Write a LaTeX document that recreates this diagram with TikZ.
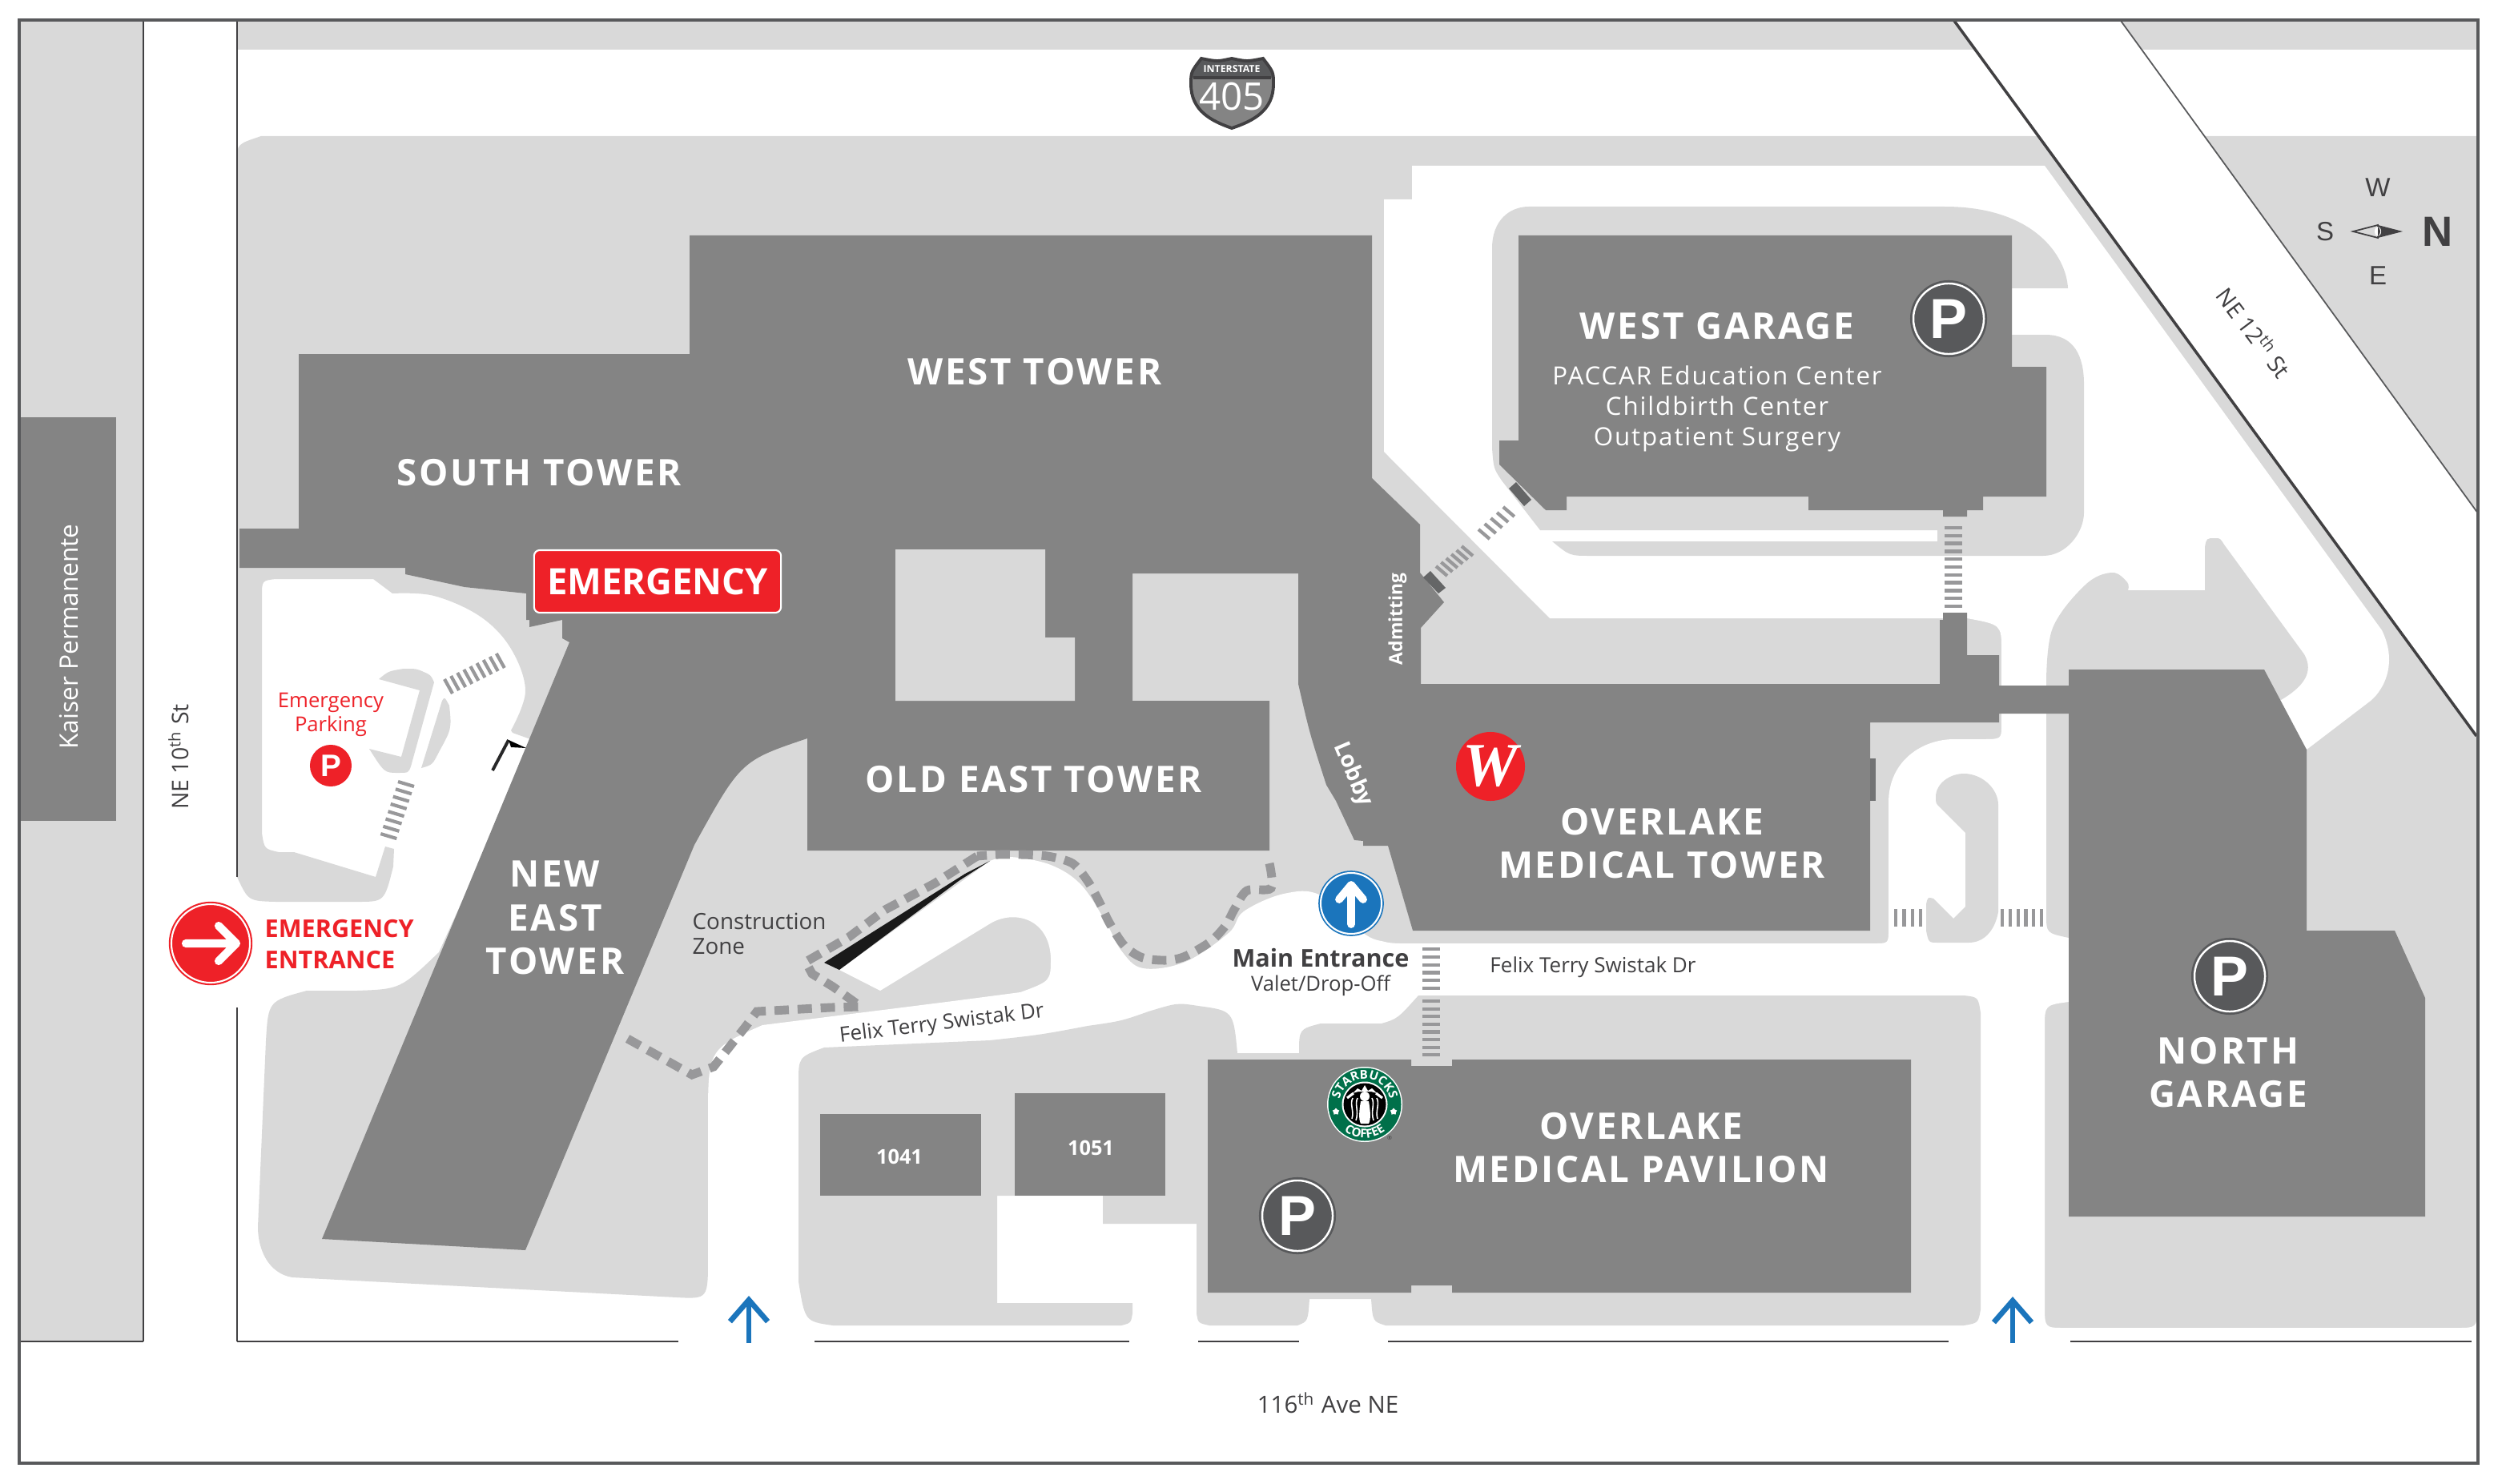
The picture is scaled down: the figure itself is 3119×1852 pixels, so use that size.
\documentclass[tikz,border=0pt]{standalone}
\usepackage{fontspec}
\setmainfont{Open Sans}
\newfontfamily\bldgfont[LetterSpace=6]{Open Sans}
\newfontfamily\subfont[LetterSpace=6]{Open Sans}
\newfontfamily\arialfont{Liberation Sans}
\newfontfamily\walgfont{Liberation Serif}
\usetikzlibrary{shapes.geometric, arrows.meta, decorations.text}
\newcommand{\fsz}[2]{\fontsize{#1}{#2}\selectfont}
\definecolor{lawn}{HTML}{D9D9D9}
\definecolor{bldg}{HTML}{848484}
\definecolor{ink}{HTML}{414042}
\definecolor{signgray}{HTML}{58595B}
\definecolor{barcol}{HTML}{98989A}
\definecolor{redcol}{HTML}{EE2128}
\definecolor{bluecol}{HTML}{1B75BC}
\definecolor{sbxgreen}{HTML}{00704A}
\tikzset{
    ground/.style={fill=lawn},
    road/.style={fill=white},
    building/.style={fill=bldg},
    walkbar/.style={draw=barcol, line width=1.2pt},
    constr/.style={draw=barcol, line width=3.1pt, dash pattern=on 5.1pt off 3.1pt},
    streetline/.style={draw=ink, line width=0.7pt},
    bldglabel/.style={text=white, align=center, inner sep=0pt, font=\bldgfont\bfseries\fsz{13}{15.4}},
    sublabel/.style={text=white, align=center, inner sep=0pt, font=\subfont\fsz{8.9}{10.8}},
    minilabel/.style={text=white, inner sep=0pt, font=\bfseries\fsz{7.2}{9}},
    roadlabel/.style={text=ink, align=center, inner sep=0pt, font=\fsz{7.4}{9}},
    redlabel/.style={text=redcol, align=left, inner sep=0pt, font=\bfseries\fsz{8.7}{10.9}},
    psign/.style={circle, fill=signgray, draw=white, line width=0.7pt, minimum size=0.88cm, inner sep=0pt,
        preaction={draw=signgray, line width=2.3pt}, text=white, font=\arialfont\bfseries\fsz{20}{20}},
    roundsign/.style={circle, draw=white, line width=0.6pt, minimum size=0.9cm, inner sep=0pt},
    comptext/.style={text=ink, inner sep=0pt, font=\arialfont\fsz{9.4}{11}},
    bluearrow/.style={draw=bluecol, line width=1.9pt, -{Straight Barb[length=7.7pt,width=13.4pt]}}
}

\begin{document}
\begin{tikzpicture}[x=0.01cm, y=-0.01cm]
\useasboundingbox (0,0) rectangle (3119,1852);
\fill[white] (0,0) rectangle (3119,1852);

% Outer bands
\fill[ground] (24,26) rectangle (178,1675);
\fill[building] (24,521) rectangle (145,1025);
\fill[ground] (296,26) -- (2440,26) -- (2467,62) -- (296,62) -- cycle;
\fill[ground] (2648,26) -- (3094,26) -- (3094,62) -- (2674,62) -- cycle;
\fill[ground] (2752,170) -- (3094,170) -- (3094,641) -- cycle;

% Grounds
\fill[ground] (296,200) .. controls (296,180) .. (326,170) -- (2545,170) -- (3092,919) -- (3092,1660) -- (884,1660)
    -- (884,1570) .. controls (884,1622) .. (845,1620) -- (365,1595) .. controls (335,1590) and (322,1560) .. (322,1532)
    -- (332,1300) .. controls (335,1250) .. (383,1237) -- (446,1237) .. controls (500,1235) .. (548,1189)
    -- (668,925) -- (640,915) -- plot[smooth,tension=0.6] coordinates {(638,912) (656,863) (638,810) (600,770) (542,744) (490,741)}
    -- (466,723) -- (344,723) .. controls (327,725) .. (327,745) -- (327,1040) .. controls (330,1060) .. (348,1064) -- (367,1064)
    -- (469,1095) -- (481,1057) -- (492,1060) -- (491,1082) .. controls (480,1126) .. (446,1126) -- (344,1126)
    .. controls (310,1125) .. (296,1095) -- cycle;

% Roads
\fill[road] (884,1680) -- (884,1400) .. controls (884,1310) .. (952,1280) -- (1190,1250) -- (1274,1239)
    .. controls (1312,1225) .. (1312,1196) .. controls (1310,1146) and (1265,1135) .. (1235,1154) -- (1099,1237) -- (1048,1211) -- (1236,1075)
    -- plot[smooth,tension=0.6] coordinates {(1236,1075) (1262,1070) (1312,1080) (1350,1105) (1381,1152) (1400,1187) (1427,1209) (1480,1201) (1534,1165) (1553,1138) (1603,1116) (1649,1118) (1702,1165) (1729,1176) (1750,1178)}
    -- (2340,1178) .. controls (2358,1178) .. (2358,1160) -- (2358,1002) .. controls (2358,950) and (2400,923) .. (2440,923)
    -- (2475,923) .. controls (2499,923) .. (2499,905) -- (2499,812) .. controls (2499,780) .. (2456,772)
    -- (1935,772) -- (1728,564) -- (1728,249) -- (1763,249) -- (1763,207) -- (2553,207) -- (2974,787)
    .. controls (2995,830) and (2975,865) .. (2956,878) -- (2880,936) -- (2800,1000) -- (2800,1200) -- (2583,1251)
    .. controls (2553,1255) .. (2553,1283) -- (2553,1630) .. controls (2553,1658) .. (2578,1658) -- (3068,1658)
    .. controls (3092,1658) .. (3094,1634) -- (3094,1680) -- cycle;

% Islands
\fill[ground] (997,1600) -- (997,1352) .. controls (997,1320) .. (1029,1308) -- (1236,1299) .. controls (1300,1292) .. (1358,1281)
    .. controls (1400,1275) .. (1434,1263) .. controls (1470,1252) .. (1496,1256) .. controls (1540,1262) .. (1545,1315)
    -- (1622,1315) .. controls (1622,1285) .. (1649,1278) -- (1725,1278) .. controls (1745,1272) .. (1771,1243)
    -- (2452,1243) .. controls (2470,1245) .. (2473,1265) -- (2473,1635) .. controls (2470,1652) .. (2452,1655)
    -- (1730,1655) .. controls (1714,1650) .. (1712,1622) -- (1635,1622) .. controls (1633,1650) .. (1620,1655)
    -- (1510,1655) .. controls (1496,1652) .. (1494,1640) -- (1494,1528) -- (1377,1528) -- (1377,1493) -- (1245,1493)
    -- (1245,1627) -- (1414,1627) -- (1414,1640) .. controls (1412,1652) .. (1400,1655) -- (1040,1655)
    .. controls (1005,1650) .. (997,1600) -- cycle;
\fill[ground] (1909,258) -- (2428,258) .. controls (2540,258) and (2580,320) .. (2582,360) -- (2512,360) -- (2512,418)
    -- (2554,418) .. controls (2590,418) and (2602,445) .. (2602,480) -- (2602,640) .. controls (2602,665) and (2580,694) .. (2551,694)
    -- (1986,694) .. controls (1960,694) .. (1938,676) -- (2419,676) -- (2419,662) -- (1923,662) -- (1875,600)
    .. controls (1865,585) .. (1863,560) -- (1863,310) .. controls (1863,275) and (1885,258) .. (1909,258) -- cycle;
\fill[ground] (2555,1142) -- (2555,851) -- plot[smooth,tension=0.6] coordinates {(2555,851) (2563,784) (2604,730) (2637,715) (2656,727) (2657,737)}
    -- (2753,737) -- (2753,683) .. controls (2755,672) .. (2766,672) .. controls (2772,672) .. (2777,680) -- (2877,817)
    .. controls (2890,840) and (2875,858) .. (2848,874) -- (2700,900) -- (2700,1171) -- (2583,1171) .. controls (2555,1165) .. (2555,1142) -- cycle;
\fill[ground] (2417,995) .. controls (2417,978) and (2435,966) .. (2452,966) .. controls (2475,966) and (2495,985) .. (2495,1005)
    -- (2495,1139) .. controls (2490,1165) and (2475,1177) .. (2458,1177) -- (2420,1177) .. controls (2408,1177) .. (2405,1162)
    -- (2405,1129) .. controls (2407,1120) .. (2414,1122) -- (2439,1147) -- (2454,1132) -- (2454,1040) -- (2422,1008) .. controls (2417,1003) .. (2417,995) -- cycle;

% Emergency lot islands
\fill[ground] (473,848) .. controls (485,838) .. (504,835) .. controls (520,835) .. (529,839) .. controls (538,843) .. (542,852)
    -- (513,957) .. controls (510,965) .. (497,965) .. controls (480,965) .. (461,935) -- (501,945) -- (524,862) -- cycle;
\fill[ground] (552,875) .. controls (555,870) .. (561,881) .. controls (564,910) .. (548,939) .. controls (540,955) .. (526,959) -- cycle;

% Street lines
\draw[streetline] (24,1675) -- (179,1675) (179,26) -- (179,1675);
\draw[streetline] (296,26) -- (296,1095) (296,1258) -- (296,1675);
\draw[streetline] (296,1675) -- (847,1675) (1017,1675) -- (1410,1675) (1496,1675) -- (1622,1675) (1733,1675) -- (2433,1675) (2585,1675) -- (3086,1675);
\draw[streetline, line width=1pt] (2440,26) -- (3092,919);
\draw[streetline, draw=signgray, line width=0.5pt] (2648,26) -- (3094,641);

% Buildings
\fill[building] (861,294) -- (1713,294) -- (1713,597) -- (1773,655) -- (1773,715) -- (1803,752) -- (1774,784) -- (1774,854)
    -- (2422,854) -- (2422,774) -- (2426,774) -- (2426,765) -- (2456,765) -- (2456,818) -- (2496,818) -- (2496,856) -- (2584,856)
    -- (2584,891) -- (2496,891) -- (2496,902) -- (2335,902) -- (2335,1162) -- (1764,1162) -- (1733,1056) -- (1702,1056) -- (1702,1050)
    -- (1691,1049) -- (1668,1000) -- (1656,980) .. controls (1635,915) .. (1621,854) -- (1621,716) -- (1414,716) -- (1414,875) -- (1585,875)
    -- (1585,1062) -- (1008,1062) -- (1008,922) .. controls (925,950) .. (867,1055) -- (656,1561) -- (402,1547) -- (711,802) -- (702,797)
    -- (702,774) -- (661,783) -- (661,774) -- (657,774) -- (657,741) -- (580,733) -- (506,717) -- (506,709) -- (299,709) -- (299,660)
    -- (373,660) -- (373,442) -- (861,442) -- cycle;
\fill[ground] (1118,686) -- (1305,686) -- (1305,796) -- (1342,796) -- (1342,875) -- (1118,875) -- cycle;
\fill[building] (1896,294) -- (2512,294) -- (2512,458) -- (2555,458) -- (2555,620) -- (2476,620) -- (2476,637) -- (2456,637)
    -- (2456,645) -- (2426,645) -- (2426,637) -- (2258,637) -- (2258,620) -- (1956,620) -- (1956,637) -- (1930,637) -- (1872,580)
    -- (1872,550) -- (1896,550) -- cycle;
\fill[building] (1508,1323) -- (1762,1323) -- (1762,1331) -- (1813,1331) -- (1813,1323) -- (2386,1323) -- (2386,1614) -- (1813,1614)
    -- (1813,1605) -- (1762,1605) -- (1762,1614) -- (1508,1614) -- cycle;
\fill[building] (2583,836) -- (2827,836) -- (2880,936) -- (2880,1162) -- (2990,1162) -- (3028,1246) -- (3028,1519) -- (2583,1519) -- cycle;
\fill[building] (1024,1391) rectangle (1225,1493);
\fill[building] (1267,1365) rectangle (1455,1493);
\fill[signgray!70!bldg] (1884,610) -- (1893,602) -- (1912,624) -- (1903,632) -- cycle;
\fill[signgray!70!bldg] (1777,721) -- (1786,713) -- (1805,734) -- (1796,741) -- cycle;
\fill[signgray!40!bldg] (2335,947) rectangle (2342,1000);

% Crosswalks
\foreach \i in {0,...,10} \draw[walkbar] (2428,{659+9.8*\i}) -- (2450,{659+9.8*\i});
\foreach \i in {0,...,5} \draw[walkbar] (1776,{1185+9.8*\i}) -- (1798,{1185+9.8*\i});
\foreach \i in {0,...,7} \draw[walkbar] (1776,{1250+9.6*\i}) -- (1798,{1250+9.6*\i});
\foreach \i in {0,...,3} \draw[walkbar] ({2367+10.4*\i},1135) -- ({2367+10.4*\i},1157);
\foreach \i in {0,...,5} \draw[walkbar] ({2500+9.8*\i},1135) -- ({2500+9.8*\i},1157);
\foreach \i in {0,...,5} \draw[walkbar, shift={({1800+6.4*\i},{713-5*\i})}] (-7,-6) -- (7,6);
\foreach \i in {0,...,4} \draw[walkbar, shift={({1853+7.7*\i},{667-7*\i})}] (-7,-6) -- (7,6);
\foreach \i in {0,...,8} \draw[walkbar, shift={({560+8.1*\i},{857-4*\i})}] (-5,-9) -- (5,9);
\foreach \i in {0,...,7} \draw[walkbar, shift={({507-3.1*\i},{979+9.3*\i})}] (-10,-3) -- (10,3);

% Construction zone
\fill[black!90] (1029,1202) -- (1205,1091) -- (1236,1075) -- (1197,1100) -- (1048,1211) -- cycle;
\draw[constr] plot[smooth,tension=0.5] coordinates {(1585,1078) (1587,1109) (1557,1112) (1542,1134) (1530,1156) (1511,1176) (1480,1194) (1457,1199) (1427,1196) (1404,1181) (1385,1152) (1373,1127) (1358,1100) (1339,1078) (1308,1069) (1274,1067) (1247,1067) (1220,1069)};
\draw[constr] (1220,1069) -- (1167,1103) -- (1105,1136) -- (1060,1170) -- (1006,1201) -- (1014,1216) -- (1040,1232) -- (1075,1257) -- (1037,1258) -- (945,1263) -- (930,1283) -- (891,1332) -- (864,1342) -- (780,1295);

% Flag
\draw[ink!60!black, line width=1.1pt] (615,962) -- (635,924);
\fill[black] (635,924) -- (657,934) -- (638,933) -- cycle;

% Shield
\begin{scope}
\clip (1500,73) .. controls (1520,77) .. (1538,73) .. controls (1557,77) .. (1577,73) .. controls (1590,90) .. (1590,105) .. controls (1590,138) and (1565,151) .. (1538,160)
    .. controls (1512,151) and (1487,138) .. (1487,105) .. controls (1487,90) .. (1500,73) -- cycle;
\fill[bldg] (1480,60) rectangle (1600,170);
\fill[signgray] (1480,60) rectangle (1600,97);
\end{scope}
\draw[ink, line width=1.1pt] (1500,73) .. controls (1520,77) .. (1538,73) .. controls (1557,77) .. (1577,73) .. controls (1590,90) .. (1590,105) .. controls (1590,138) and (1565,151) .. (1538,160)
    .. controls (1512,151) and (1487,138) .. (1487,105) .. controls (1487,90) .. (1500,73) -- cycle;
\draw[ink, line width=0.9pt] (1490,97) -- (1587,97);
\node[text=white, inner sep=0pt, font=\bfseries\fsz{3.5}{4}] (interstate) at (1538,86) {INTERSTATE};
\node[text=white, inner sep=0pt, font=\fsz{13.5}{14}] (hwynum) at (1538,121) {405};

% Compass
\draw[ink, line width=0.5pt] (2938,289) -- (2969,281) -- (2969,297) -- cycle;
\fill[ink] (2969,281) -- (3000,289) -- (2969,297) -- cycle;
\fill[white] (2969,289) ellipse (4 and 6);
\fill[ink] (2969,283) .. controls (2973,286) and (2973,292) .. (2969,295) -- cycle;
\node[comptext] (compw) at (2969,234) {W};
\node[comptext] (compe) at (2969,344) {E};
\node[comptext] (comps) at (2903,289) {S};
\node[text=ink, inner sep=0pt, font=\arialfont\bfseries\fsz{15}{16}] (compn) at (3043,289) {N};

% Signs
\node[psign] (pwest) at (2433,398) {P};
\node[psign] (ppav) at (1620,1518) {P};
\node[psign] (pnorth) at (2784,1219) {P};
\node[circle, fill=redcol, minimum size=0.52cm, inner sep=0pt, text=white, font=\arialfont\bfseries\fsz{11}{11}] (pemerg) at (413,956) {P};
\node[circle, fill=redcol, minimum size=0.86cm, inner sep=0pt, text=white, font=\walgfont\bfseries\itshape\fsz{22}{22}] (walg) at (1861,957) {W};
\node[rectangle, rounded corners=0.07cm, fill=redcol, draw=white, line width=0.6pt, minimum width=3.08cm, minimum height=0.78cm, inner sep=0pt,
    text=white, font=\bfseries\fsz{12.9}{14}] (emerg) at (821,726) {EMERGENCY};

% Entrance circles
\node[roundsign, fill=redcol, preaction={draw=redcol, line width=1.8pt}, minimum size=0.98cm] (emergcirc) at (263,1178) {};
\draw[white, line width=2.9pt, line cap=round, line join=round] (232,1178) -- (295,1178) (273,1156) -- (295,1178) -- (273,1200);
\node[roundsign, fill=bluecol, preaction={draw=bluecol, line width=1.6pt}, minimum size=0.76cm] (maincirc) at (1687,1128) {};
\draw[white, line width=2.8pt, line cap=round, line join=round] (1687,1154) -- (1687,1105) (1672,1123) -- (1687,1105) -- (1702,1123);

% Entry arrows
\coordinate (entrya) at (935,1677);
\coordinate (entryb) at (935,1618);
\coordinate (entryc) at (2513,1677);
\coordinate (entryd) at (2513,1619);
\draw[bluearrow] (entrya) -- (entryb);
\draw[bluearrow] (entryc) -- (entryd);

% Starbucks
\begin{scope}[shift={(1704,1379)}, x=0.01cm, y=0.01cm]
\fill[white] (0,0) circle (47);
\fill[sbxgreen] (0,0) circle (45.5);
\fill[white] (0,0) circle (28.5);
\fill[black] (0,0) circle (26.5);
\fill[white] (0,10) circle (6);
\fill[white] (-5,4) .. controls (-7,-8) and (-8,-18) .. (-5,-24) -- (5,-24) .. controls (8,-18) and (7,-8) .. (5,4) -- cycle;
\fill[white] (-15,14) -- (-9,20) -- (-4,17) -- (0,24) -- (4,17) -- (9,20) -- (15,14) -- (8,16) -- (-8,16) -- cycle;
\foreach \s in {-1,1} {
\draw[white, line width=0.45pt] (\s*9,8) .. controls (\s*13,0) and (\s*7,-8) .. (\s*11,-20);
\draw[white, line width=0.45pt] (\s*15,8) .. controls (\s*19,0) and (\s*13,-8) .. (\s*16,-18);
\draw[white, line width=0.9pt] (\s*14,14) -- (\s*22,8);
\node[star, star points=5, fill=white, inner sep=0pt, minimum size=0.09cm] (sbxstar\s) at (\s*36,-9) {};
}
\path[decorate, decoration={text along path, text color=white, text align=center, text={|\bfseries\fsz{4.3}{5}|STARBUCKS}}]
    (170:32) arc (170:10:32);
\path[decorate, decoration={text along path, text color=white, text align=center, text={|\bfseries\fsz{4.3}{5}|COFFEE}}]
    (218:42) arc (218:322:42);
\end{scope}
\node[text=ink, inner sep=0pt, font=\fsz{2}{2}] (sbxreg) at (1735,1421) {®};

% Building labels
\node[bldglabel] (south) at (673,590) {SOUTH TOWER};
\node[bldglabel] (west) at (1292,464) {WEST TOWER};
\node[bldglabel] (oldeast) at (1291,973) {OLD EAST TOWER};
\node[bldglabel] (neweast) at (693,1146) {NEW\\EAST\\TOWER};
\node[bldglabel] (westg) at (2144,407) {WEST GARAGE};
\node[sublabel] (westgsub) at (2144,510) {PACCAR Education Center\\Childbirth Center\\Outpatient Surgery};
\node[bldglabel] (tower) at (2075,1053) {OVERLAKE\\MEDICAL TOWER};
\node[bldglabel] (pavil) at (2049,1433) {OVERLAKE\\MEDICAL PAVILION};
\node[bldglabel] (northg) at (2782,1339) {NORTH\\GARAGE};
\node[minilabel] (b1041) at (1123,1444) {1041};
\node[minilabel] (b1051) at (1362,1433) {1051};
\node[minilabel, font=\bfseries\fsz{6.5}{8}, rotate=90] (admit) at (1745,773) {Admitting};
\node[minilabel, font=\bfseries\fsz{8}{9}, rotate=-67] (lobby) at (1689,967) {Lobby};

% Other labels
\node[roadlabel, text=white, font=\fsz{9}{10}, rotate=90] (kaiser) at (86,795) {Kaiser Permanente};
\node[roadlabel, font=\fsz{8.1}{9}, rotate=90] (ne10) at (223,945) {NE 10\textsuperscript{th} St};
\node[roadlabel, font=\fsz{8.1}{9}, rotate=-53] (ne12) at (2815,415) {NE 12\textsuperscript{th} St};
\node[roadlabel, rotate=7] (felixa) at (1176,1279) {Felix Terry Swistak Dr};
\node[roadlabel] (felixb) at (1989,1208) {Felix Terry Swistak Dr};
\node[roadlabel, anchor=west, align=left, font=\fsz{7.9}{9}] (constrz) at (864,1166) {Construction\\Zone};
\node[roadlabel, font=\fsz{8.4}{9}] (ave) at (1658,1752) {116\textsuperscript{th} Ave NE};
\node[roadlabel, text=redcol, font=\fsz{7.3}{8.5}] (emergp) at (413,892) {Emergency\\Parking};
\node[redlabel, anchor=west] (emergent) at (330,1179) {EMERGENCY\\ENTRANCE};
\node[roadlabel, font=\bfseries\fsz{8.7}{10}] (mainent) at (1649,1196) {Main Entrance};
\node[roadlabel, font=\fsz{7.3}{8}] (valet) at (1649,1231) {Valet/Drop-Off};

% Frame
\draw[draw=signgray, line width=1.1pt] (24,25) rectangle (3094,1827);
\end{tikzpicture}
\end{document}
